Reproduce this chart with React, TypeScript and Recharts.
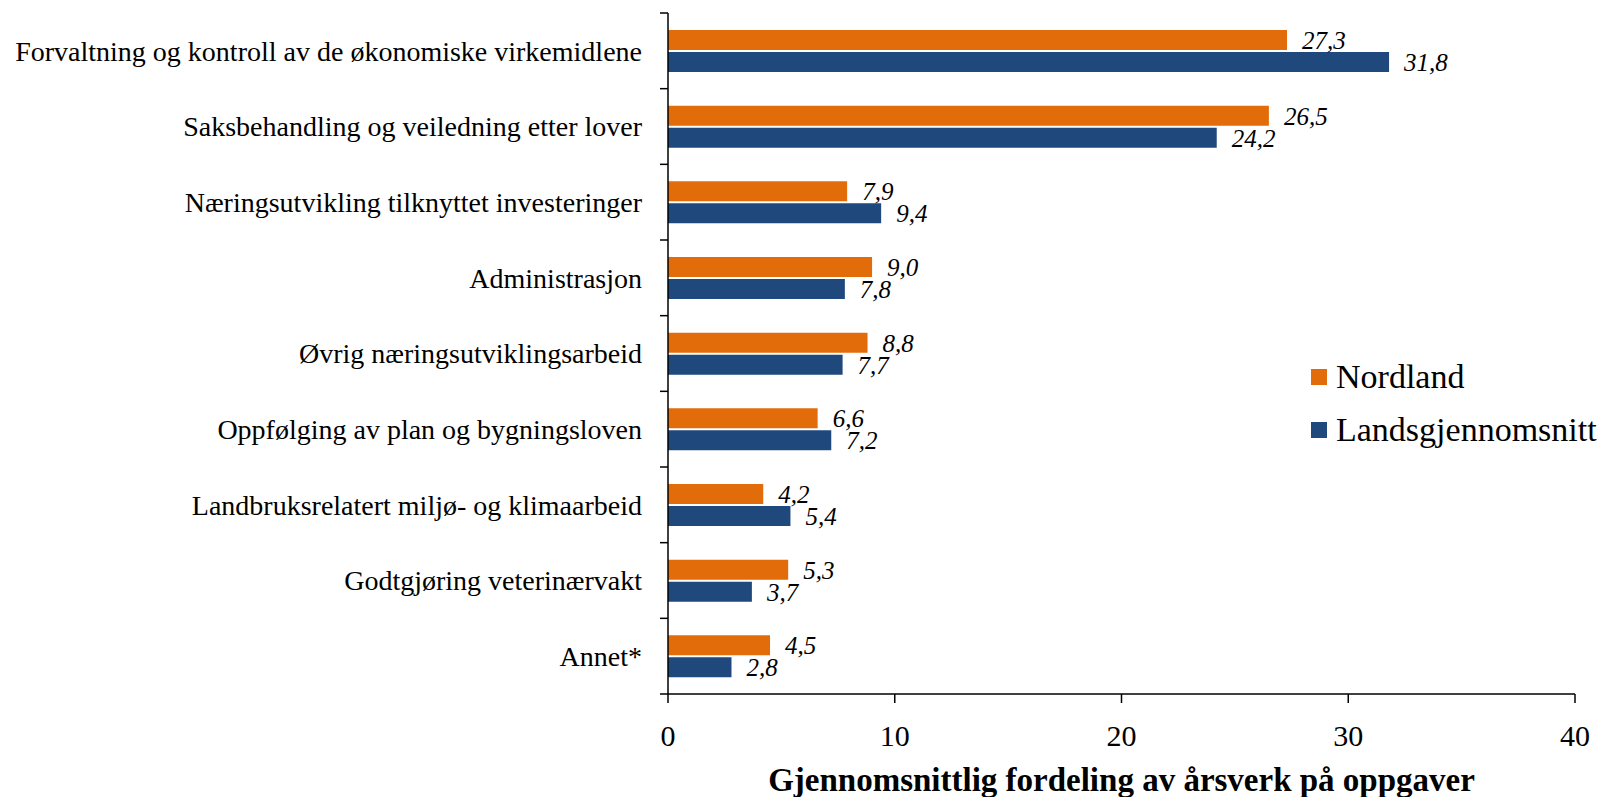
import { BarChart, Bar, XAxis, YAxis, Legend, LabelList } from 'recharts';

const categories = [
  'Forvaltning og kontroll av de økonomiske virkemidlene',
  'Saksbehandling og veiledning etter lover',
  'Næringsutvikling tilknyttet investeringer',
  'Administrasjon',
  'Øvrig næringsutviklingsarbeid',
  'Oppfølging av plan og bygningsloven',
  'Landbruksrelatert miljø- og klimaarbeid',
  'Godtgjøring veterinærvakt',
  'Annet*',
];
const seriesNames = ['Nordland', 'Landsgjennomsnitt'];
const nordland = [27.3, 26.5, 7.9, 9.0, 8.8, 6.6, 4.2, 5.3, 4.5];
const landsgjennomsnitt = [31.8, 24.2, 9.4, 7.8, 7.7, 7.2, 5.4, 3.7, 2.8];
const xTicks = [0, 10, 20, 30, 40];

const data = categories.map((name, i) => ({
  name,
  nordland: nordland[i],
  lands: landsgjennomsnitt[i],
}));

const FONT = '"Liberation Serif", "Times New Roman", serif';
const ORANGE = '#E36C0A';
const BLUE = '#1F497D';

const MARGIN = { top: 13, right: 28, bottom: 0, left: 0 };
const Y_WIDTH = 668;
const AXIS_X = MARGIN.left + Y_WIDTH;

const fmt = (v: number) => v.toFixed(1).replace('.', ',');

const CategoryTick = (props: any) => {
  const { x, y, payload, index } = props;
  const half = payload.offset ?? 37.8;
  return (
    <g>
      <text x={x} y={y} dy="0.355em" textAnchor="end" fill="#000" fontSize={28} fontFamily={FONT}>
        {payload.value}
      </text>
      <line x1={AXIS_X - 8} x2={AXIS_X} y1={y - half} y2={y - half} stroke="#000" strokeWidth={1.5} />
      {index === categories.length - 1 && (
        <line x1={AXIS_X - 8} x2={AXIS_X} y1={y + half} y2={y + half} stroke="#000" strokeWidth={1.5} />
      )}
    </g>
  );
};

const LegendContent = ({ payload }: any) => {
  const items = [...(payload || [])].sort(
    (a: any, b: any) => seriesNames.indexOf(a.value) - seriesNames.indexOf(b.value)
  );
  return (
    <div style={{ fontFamily: FONT, fontSize: 34, color: '#000' }}>
      {items.map((p: any) => (
        <div key={p.value} style={{ display: 'flex', alignItems: 'center', height: 53 }}>
          <span style={{ display: 'inline-block', width: 16, height: 16, background: p.color, marginRight: 9 }} />
          <span>{p.value}</span>
        </div>
      ))}
    </div>
  );
};

export default function App() {
  return (
    <div style={{ position: 'absolute', left: 0, top: 0 }}>
      <BarChart width={1603} height={797} data={data} layout="vertical" margin={MARGIN} barSize={20} barGap={2}>
        <XAxis
          type="number"
          domain={[0, 40]}
          ticks={xTicks}
          height={103}
          axisLine={{ stroke: '#000', strokeWidth: 1.5 }}
          tickLine={{ stroke: '#000', strokeWidth: 1.5 }}
          tickSize={9}
          tickMargin={22}
          tick={{ fill: '#000', fontSize: 30, fontFamily: FONT }}
          label={{
            value: 'Gjennomsnittlig fordeling av årsverk på oppgaver',
            position: 'insideBottom',
            offset: 6,
            fill: '#000',
            fontSize: 33,
            fontWeight: 'bold',
            fontFamily: FONT,
          }}
        />
        <YAxis
          type="category"
          dataKey="name"
          width={Y_WIDTH}
          axisLine={{ stroke: '#000', strokeWidth: 1.5 }}
          tickLine={false}
          tickSize={8}
          tickMargin={18}
          interval={0}
          tick={<CategoryTick />}
        />
        <Legend
          layout="horizontal"
          verticalAlign="middle"
          content={<LegendContent />}
          wrapperStyle={{ position: 'absolute', left: 1311, top: 350, width: 'auto' }}
        />
        <Bar dataKey="nordland" name="Nordland" fill={ORANGE} isAnimationActive={false}>
          <LabelList dataKey="nordland" position="right" offset={15} formatter={(v: any) => fmt(v)}
            fill="#000" fontSize={25} fontStyle="italic" fontFamily={FONT} />
        </Bar>
        <Bar dataKey="lands" name="Landsgjennomsnitt" fill={BLUE} isAnimationActive={false}>
          <LabelList dataKey="lands" position="right" offset={15} formatter={(v: any) => fmt(v)}
            fill="#000" fontSize={25} fontStyle="italic" fontFamily={FONT} />
        </Bar>
      </BarChart>
    </div>
  );
}
